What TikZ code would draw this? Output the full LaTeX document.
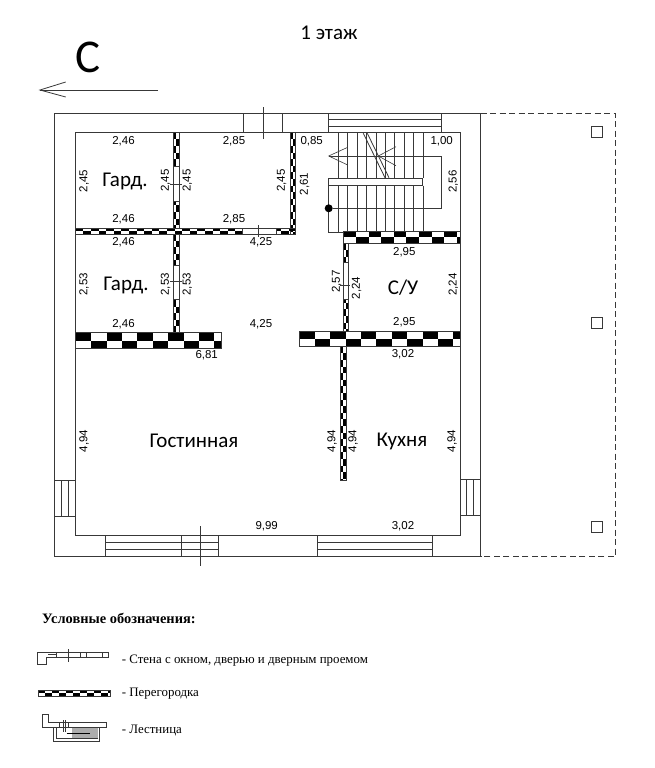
\documentclass[tikz,border=0pt]{standalone}
\usepackage{fontspec}
\setmainfont{Liberation Serif}
\newfontfamily\dimfont{Liberation Sans}
\newfontfamily\roomfont{Carlito}
\usetikzlibrary{calc}
\definecolor{planline}{gray}{0.22}

\newcommand{\hcheck}[5]{%
    \begin{scope}
        \clip (#1,#2) rectangle ++(#3,#4);
        \pgfmathtruncatemacro{\cellmax}{#3/#5}
        \foreach \k in {0,...,\cellmax} {
            \pgfmathtruncatemacro{\odd}{mod(\k,2)}
            \fill[black] ({#1+\k*#5},{#2+\odd*#4/2}) rectangle ++(#5,#4/2);
        }
    \end{scope}
    \draw[plan] (#1,#2) rectangle ++(#3,#4);
}
\newcommand{\vcheck}[5]{%
    \begin{scope}
        \clip (#1,#2) rectangle ++(#3,#4);
        \pgfmathtruncatemacro{\cellmax}{#4/#5}
        \foreach \k in {0,...,\cellmax} {
            \pgfmathtruncatemacro{\odd}{mod(\k,2)}
            \fill[black] ({#1+\odd*#3/2},{#2+\k*#5}) rectangle ++(#3/2,#5);
        }
    \end{scope}
    \draw[plan] (#1,#2) rectangle ++(#3,#4);
}

\begin{document}
\begin{tikzpicture}[
    x=1pt, y=-1pt,
    plan/.style = {draw=planline, line width=0.8pt},
    thinplan/.style = {draw=planline, line width=0.6pt},
    gapbox/.style = {plan, fill=white},
    dimtext/.style = {font=\dimfont\fontsize{11.5}{12}\selectfont, inner sep=0pt},
    dimrot/.style = {dimtext, rotate=90},
    roomtext/.style = {font=\roomfont\fontsize{21}{22}\selectfont, inner sep=0pt},
    legendtext/.style = {font=\fontsize{12.9}{14}\selectfont, anchor=west, inner sep=0pt}
    ]
    \useasboundingbox (0,0) rectangle (654,768);

    % outer wall
    \draw[plan] (480.7,113.3) -- (54.7,113.3) -- (54.7,556.7) -- (480.7,556.7) -- cycle;
    \draw[plan, dashed, dash pattern=on 6pt off 3.5pt] (480.7,113.3) -- (615.3,113.3) -- (615.3,556.7) -- (480.7,556.7);
    \foreach \y in {131.7,323,527}
        \draw[plan] (591.2,\y-5.5) rectangle ++(11,11);

    % inner outline
    \draw[plan] (173.3,132.7) -- (75.7,132.7) -- (75.7,228.3);
    \draw[plan] (75.7,234) -- (75.7,332.7);
    \draw[plan] (221.7,348.3) -- (75.7,348.3) -- (75.7,535.7) -- (460.3,535.7) -- (460.3,132.7) -- (296,132.7);
    \draw[plan] (179.3,132.7) -- (290,132.7);

    % partitions
    \vcheck{173.3}{132.7}{6}{95.6}{6.6}
    \vcheck{173.3}{234}{6}{98.7}{6.6}
    \vcheck{290}{132.7}{5.7}{101.3}{6.6}
    \hcheck{75.7}{228.3}{220}{5.7}{7.6}
    \hcheck{75.7}{332.7}{146}{15.6}{15.4}
    \hcheck{299.3}{331.7}{161}{15}{15.4}
    \hcheck{343.3}{231}{117}{12.3}{12.6}
    \vcheck{343.3}{243.3}{5}{88.4}{6.6}
    \vcheck{340}{346.7}{6}{134}{6.6}

    % gaps in partitions
    \draw[gapbox] (173.3,166.7) rectangle (179.3,201);
    \draw[plan] (170,184.5) -- (181.7,184.5);
    \draw[gapbox] (173.3,265) rectangle (179.3,299);
    \draw[plan] (170,281.7) -- (181.7,281.7);
    \draw[gapbox] (242.7,228.3) rectangle (276,234);
    \draw[plan] (258,225) -- (258,237);
    \draw[gapbox] (343.3,262.7) rectangle (348.3,299);
    \draw[plan] (340,285) -- (350,285);

    % top door and window
    \draw[plan] (243.3,113.3) -- (243.3,132.7) (282.7,113.3) -- (282.7,132.7);
    \draw[plan] (263,107) -- (263,139);
    \draw[plan] (328.7,113.3) rectangle (441.7,132.7);
    \draw[plan] (328.7,119.3) -- (441.7,119.3) (328.7,126) -- (441.7,126);

    % side windows
    \draw[plan] (54.7,480.7) rectangle (75.7,516.7);
    \draw[plan] (61.7,480.7) -- (61.7,516.7) (68.3,480.7) -- (68.3,516.7);
    \draw[plan] (460.3,479.3) rectangle (480.7,515);
    \draw[plan] (466.7,479.3) -- (466.7,515) (473,479.3) -- (473,515);

    % bottom windows and door
    \foreach \xa/\xb in {105.3/218.3,317.7/432} {
        \draw[plan] (\xa,535.7) rectangle (\xb,556.7);
        \draw[plan] (\xa,542.7) -- (\xb,542.7) (\xa,549.3) -- (\xb,549.3);
    }
    \draw[plan] (181,535.7) -- (181,556.7);
    \draw[plan] (200,526) -- (200,565.7);

    % stairs
    \foreach \x in {338.3,347.7,...,423} {
        \draw[thinplan] (\x,132.7) -- (\x,178.3);
        \draw[thinplan] (\x,185.7) -- (\x,232.3);
    }
    \draw[plan] (328.7,178.3) rectangle (422.7,185.7);
    \draw[plan] (328.7,185.7) -- (328.7,232.3) -- (343.3,232.3);
    \draw[plan] (363.3,133.3) -- (385,177.7) (367.3,133.3) -- (389,177.7);
    \node[circle, fill=black, inner sep=0pt, minimum size=8pt] (stairdot) at (328.7,208.3) {};
    \coordinate (tipa) at (328.7,156);
    \coordinate (tipb) at (378.3,156);
    \draw[thinplan] (stairdot) -- (441.7,208.3) -- (441.7,156) -- (tipa);
    \draw[thinplan] (347.7,147.3) -- (tipa) -- (347.7,165);
    \draw[thinplan] (396,146.7) -- (tipb) -- (396,165.7);

    % north arrow
    \coordinate (norths) at (158,90);
    \coordinate (northe) at (40,90);
    \draw[plan] (norths) -- (northe);
    \draw[plan] (65.7,82) -- (northe) -- (65.7,97);
    \node[font=\roomfont\fontsize{47}{47}\selectfont, inner sep=0pt] (north) at (88,57) {С};
    \node[font=\roomfont\fontsize{21}{22}\selectfont, inner sep=0pt] (floor) at (329,33) {1 этаж};

    % room names
    \foreach \x/\y/\t [count=\i] in {125/181.5/Гард.,126/285/Гард.,403/288/{С/У},194/441/Гостинная,402/441/Кухня}
        \node[roomtext] (room\i) at (\x,\y) {\t};

    % horizontal sizes
    \foreach \x/\y/\t [count=\i] in {
        123.5/141/{2,46}, 234/141/{2,85}, 311.7/141/{0,85}, 441.7/141/{1,00},
        123.5/219.5/{2,46}, 234/219.5/{2,85}, 123.5/242.5/{2,46}, 261/242/{4,25},
        404.3/252/{2,95}, 123.5/324/{2,46}, 261/324/{4,25}, 404.3/322/{2,95},
        206.7/355/{6,81}, 403/354/{3,02}, 266.7/526.5/{9,99}, 403/526.5/{3,02}}
        \node[dimtext] (dimh\i) at (\x,\y) {\t};

    % vertical sizes
    \foreach \x/\y/\t [count=\i] in {
        84/181/{2,45}, 165.5/180.5/{2,45}, 187.3/180.5/{2,45}, 281.5/180.5/{2,45},
        304.5/184/{2,61}, 453.3/181.7/{2,56}, 84/284.3/{2,53}, 165.5/284.3/{2,53},
        187.3/284.3/{2,53}, 336.7/281.7/{2,57}, 356.7/288/{2,24}, 453.3/284.6/{2,24},
        84/441/{4,94}, 332/441/{4,94}, 353/441/{4,94}, 452/441/{4,94}}
        \node[dimrot] (dimv\i) at (\x,\y) {\t};

    % legend
    \node[font=\bfseries\fontsize{14.4}{15}\selectfont, anchor=west, inner sep=0pt] (legtitle) at (42,618) {Условные обозначения:};
    \draw[thinplan] (37.3,664) -- (37.3,652.3) -- (108.3,652.3) -- (108.3,657.3) -- (46,657.3) -- (46,664) -- cycle;
    \fill[planline] (48,653.5) rectangle (56.7,655);
    \draw[thinplan] (68.3,649.3) -- (68.3,661.7);
    \foreach \x in {56.7,80,86,102.7}
        \draw[thinplan] (\x,652.3) -- (\x,657.3);
    \node[legendtext] (legwall) at (121.7,660.5) {- Стена с окном, дверью и дверным проемом};
    \hcheck{38.3}{690}{71.7}{6.7}{7}
    \node[legendtext] (legpart) at (121.7,693.5) {- Перегородка};
    \draw[thinplan] (42.3,714) -- (48.3,714) -- (48.3,722.3) -- (106.7,722.3) -- (106.7,727.7) -- (42.3,727.7) -- cycle;
    \draw[thinplan] (53.3,727.7) -- (53.3,741.7) -- (99.3,741.7) -- (99.3,727.7);
    \draw[thinplan] (56.7,727.7) -- (56.7,738.3) -- (98.3,738.3);
    \fill[gray!65] (71.7,727.7) rectangle (98.3,738.3);
    \coordinate (legarra) at (66.7,733.3);
    \coordinate (legarrb) at (90,733.3);
    \draw[black, line width=1pt] (legarra) -- (legarrb);
    \draw[thinplan] (63.3,720) -- (63.3,731.7) (65,720) -- (65,731.7);
    \draw[thinplan] (59.3,722.3) -- (59.3,727.7) (68.3,722.3) -- (68.3,727.7);
    \node[legendtext] (legstair) at (121.7,730.5) {- Лестница};
\end{tikzpicture}
\end{document}
